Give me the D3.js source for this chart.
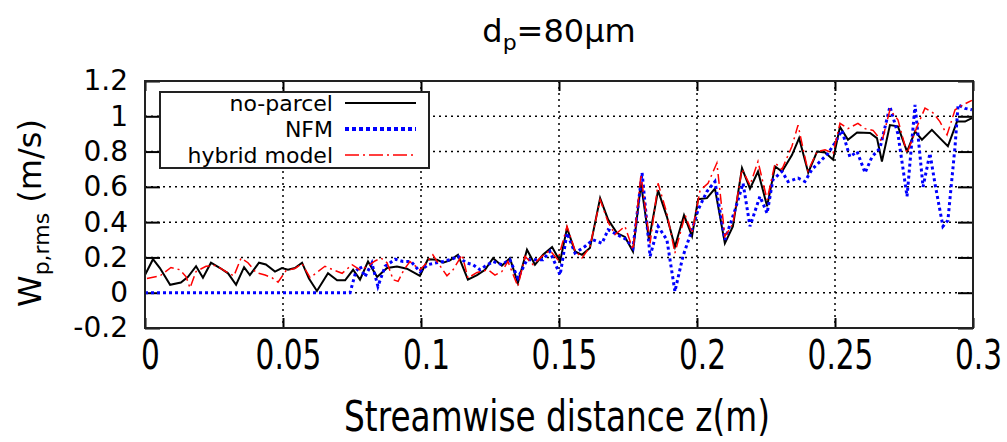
<!DOCTYPE html>
<html>
<head>
<meta charset="utf-8">
<script src="https://cdn.jsdelivr.net/npm/d3@7"></script>
<style>
body { margin: 0; background: #fff; }
text { font-family: "DejaVu Sans", sans-serif; fill: #000; }
</style>
</head>
<body>
<div id="chart"></div>
<script>
// no-parcel (black solid)
var noParcelZ = [0, 0.0029, 0.0054, 0.0091, 0.0130, 0.0156, 0.0185, 0.0210, 0.0239, 0.0272,
    0.0301, 0.0330, 0.0359, 0.0380, 0.0413, 0.0438, 0.0471, 0.0496, 0.0518, 0.0543,
    0.0569, 0.0594, 0.0623, 0.0663, 0.0696, 0.0725, 0.0754, 0.0779, 0.0808, 0.0841,
    0.0877, 0.0913, 0.0949, 0.0996, 0.1025, 0.1058, 0.1080, 0.1105, 0.1134, 0.1170,
    0.1203, 0.1232, 0.1261, 0.1293, 0.1322, 0.1351, 0.1384, 0.1413, 0.1442, 0.1475,
    0.1504, 0.1529, 0.1558, 0.1583, 0.1612, 0.1649, 0.1678, 0.1710, 0.1739, 0.1768,
    0.1797, 0.1826, 0.1859, 0.1891, 0.1920, 0.1953, 0.1982, 0.2004, 0.2036, 0.2065,
    0.2101, 0.2130, 0.2163, 0.2192, 0.2221, 0.2254, 0.2283, 0.2308, 0.2344, 0.2370,
    0.2403, 0.2435, 0.2464, 0.2493, 0.2518, 0.2547, 0.2580, 0.2627, 0.2652, 0.2670,
    0.2699, 0.2728, 0.2761, 0.2790, 0.2815, 0.2851, 0.2880, 0.2909, 0.2942, 0.2971, 0.2996];
var noParcelW = [0.10, 0.19, 0.14, 0.045, 0.058, 0.09, 0.15, 0.085, 0.17, 0.14,
    0.11, 0.045, 0.145, 0.10, 0.17, 0.16, 0.12, 0.14, 0.13, 0.14,
    0.17, 0.08, 0.01, 0.11, 0.07, 0.07, 0.13, 0.074, 0.177, 0.089,
    0.14, 0.149, 0.136, 0.096, 0.19, 0.187, 0.17, 0.183, 0.215, 0.074,
    0.10, 0.13, 0.196, 0.153, 0.196, 0.055, 0.244, 0.159, 0.215, 0.259,
    0.177, 0.366, 0.234, 0.215, 0.253, 0.536, 0.414, 0.338, 0.316, 0.234,
    0.62, 0.30, 0.58, 0.43, 0.26, 0.44, 0.32, 0.53, 0.536, 0.59,
    0.28, 0.376, 0.706, 0.59, 0.687, 0.49, 0.716, 0.687, 0.78, 0.876,
    0.68, 0.80, 0.795, 0.754, 0.94, 0.867, 0.908, 0.905, 0.876, 0.744,
    0.95, 0.943, 0.80, 0.914, 0.867, 0.923, 0.876, 0.83, 0.97, 0.97, 0.99];

// NFM (blue dotted)
var nfmZ = [0, 0.0250, 0.0500, 0.0743, 0.0764, 0.0779, 0.0797, 0.0822, 0.0844, 0.0870,
    0.0906, 0.0935, 0.0964, 0.0996, 0.1025, 0.1051, 0.1080, 0.1112, 0.1134, 0.1163,
    0.1188, 0.1214, 0.1232, 0.1261, 0.1293, 0.1322, 0.1351, 0.1384, 0.1413, 0.1442,
    0.1467, 0.1504, 0.1529, 0.1558, 0.1594, 0.1623, 0.1656, 0.1678, 0.1710, 0.1746,
    0.1768, 0.1801, 0.1830, 0.1859, 0.1891, 0.1920, 0.1949, 0.1982, 0.2004, 0.2036,
    0.2065, 0.2101, 0.2138, 0.2167, 0.2192, 0.2228, 0.2254, 0.2275, 0.2308, 0.2330,
    0.2366, 0.2391, 0.2417, 0.2446, 0.2475, 0.2500, 0.2525, 0.2554, 0.2580, 0.2609,
    0.2634, 0.2663, 0.2699, 0.2728, 0.2761, 0.2790, 0.2819, 0.2844, 0.2862, 0.2891,
    0.2909, 0.2935, 0.2946, 0.2971, 0.2996];
var nfmW = [0, 0, 0, 0, 0.12, 0.15, 0.09, 0.168, 0.036, 0.15,
    0.19, 0.177, 0.177, 0.12, 0.159, 0.168, 0.177, 0.19, 0.206, 0.17,
    0.159, 0.13, 0.15, 0.177, 0.159, 0.187, 0.083, 0.187, 0.187, 0.187,
    0.234, 0.10, 0.338, 0.225, 0.262, 0.30, 0.28, 0.357, 0.33, 0.30,
    0.253, 0.68, 0.206, 0.376, 0.30, 0.007, 0.206, 0.357, 0.47, 0.574,
    0.63, 0.30, 0.47, 0.62, 0.376, 0.546, 0.45, 0.64, 0.687, 0.63,
    0.65, 0.63, 0.70, 0.744, 0.79, 0.85, 0.92, 0.77, 0.80, 0.68,
    0.77, 0.82, 1.055, 0.90, 0.546, 1.065, 0.60, 0.79, 0.62, 0.376,
    0.41, 0.83, 1.065, 1.045, 1.037];

// hybrid model (red dash-dot)
var hybridZ = [0.0007, 0.0054, 0.0094, 0.0127, 0.0149, 0.0163, 0.0185, 0.0221, 0.0257, 0.0293,
    0.0322, 0.0348, 0.0373, 0.0402, 0.0435, 0.0460, 0.0482, 0.0511, 0.0543, 0.0569,
    0.0598, 0.0627, 0.0652, 0.0681, 0.0714, 0.0750, 0.0779, 0.0808, 0.0833, 0.0855,
    0.0877, 0.0899, 0.0917, 0.0938, 0.0960, 0.0996, 0.1014, 0.1043, 0.1062, 0.1094,
    0.1116, 0.1149, 0.1170, 0.1203, 0.1243, 0.1268, 0.1293, 0.1315, 0.1351, 0.1377,
    0.1406, 0.1438, 0.1467, 0.1496, 0.1529, 0.1558, 0.1583, 0.1612, 0.1649, 0.1678,
    0.1703, 0.1739, 0.1768, 0.1797, 0.1830, 0.1859, 0.1891, 0.1920, 0.1957, 0.1982,
    0.2011, 0.2040, 0.2072, 0.2101, 0.2130, 0.2163, 0.2192, 0.2221, 0.2254, 0.2283,
    0.2308, 0.2344, 0.2366, 0.2402, 0.2435, 0.2464, 0.2493, 0.2518, 0.2547, 0.2583,
    0.2609, 0.2638, 0.2670, 0.2699, 0.2728, 0.2761, 0.2797, 0.2826, 0.2855, 0.2880,
    0.2906, 0.2935, 0.2964, 0.2996];
var hybridW = [0.08, 0.095, 0.143, 0.13, 0.09, 0.027, 0.12, 0.15, 0.155, 0.12,
    0.095, 0.196, 0.17, 0.115, 0.10, 0.085, 0.06, 0.125, 0.137, 0.165,
    0.085, 0.12, 0.15, 0.13, 0.11, 0.159, 0.13, 0.15, 0.18, 0.196,
    0.17, 0.074, 0.064, 0.13, 0.177, 0.13, 0.159, 0.215, 0.168, 0.096,
    0.13, 0.215, 0.083, 0.115, 0.13, 0.10, 0.12, 0.177, 0.036, 0.206,
    0.159, 0.206, 0.24, 0.187, 0.376, 0.24, 0.196, 0.26, 0.527, 0.40,
    0.33, 0.376, 0.244, 0.668, 0.28, 0.62, 0.45, 0.225, 0.44, 0.338,
    0.58, 0.62, 0.735, 0.32, 0.39, 0.70, 0.61, 0.744, 0.527, 0.735,
    0.70, 0.83, 0.95, 0.69, 0.80, 0.81, 0.79, 0.96, 0.93, 0.96,
    0.93, 0.92, 0.857, 1.037, 0.98, 0.79, 0.94, 1.046, 1.02, 0.97,
    0.895, 1.037, 1.065, 1.09];

var xTicks = [0, 0.05, 0.1, 0.15, 0.2, 0.25, 0.3];
var xTickLabels = ["0", "0.05", "0.1", "0.15", "0.2", "0.25", "0.3"];
var yTicks = [-0.2, 0, 0.2, 0.4, 0.6, 0.8, 1, 1.2];
var yTickLabels = ["-0.2", "0", "0.2", "0.4", "0.6", "0.8", "1", "1.2"];
var seriesNames = ["no-parcel", "NFM", "hybrid model"];

var width = 1007, height = 442;
var plotL = 145, plotR = 973, plotT = 81, plotB = 328;

var svg = d3.select("#chart").append("svg")
    .attr("width", width)
    .attr("height", height);

var x = d3.scaleLinear().domain([0, 0.3]).range([plotL, plotR]);
var y = d3.scaleLinear().domain([-0.2, 1.2]).range([plotB, plotT]);

// grid
var grid = svg.append("g")
    .attr("stroke", "#000")
    .attr("stroke-width", 1.5)
    .attr("stroke-dasharray", "2,4");
grid.selectAll("line.gx")
    .data(xTicks.slice(1, -1))
    .enter().append("line")
    .attr("x1", function (d) { return x(d); })
    .attr("x2", function (d) { return x(d); })
    .attr("y1", plotT)
    .attr("y2", plotB);
grid.selectAll("line.gy")
    .data(yTicks.slice(1, -1))
    .enter().append("line")
    .attr("y1", function (d) { return y(d); })
    .attr("y2", function (d) { return y(d); })
    .attr("x1", plotL)
    .attr("x2", plotR);

// ticks on all sides, pointing in
function styleAxis(g) {
    g.select(".domain").remove();
    g.selectAll(".tick line").attr("stroke", "#000").attr("stroke-width", 2);
}
var xAxisG = svg.append("g")
    .attr("transform", "translate(0," + plotB + ")")
    .call(d3.axisBottom(x).tickValues(xTicks).tickSize(-10).tickFormat(""))
    .call(styleAxis);
// tall, narrow tick labels like the original
xAxisG.selectAll(".tick")
    .append("text")
    .attr("transform", "translate(5,41) scale(0.74,1)")
    .attr("text-anchor", "middle")
    .attr("font-size", 40)
    .text(function (d, i) { return xTickLabels[i]; });

svg.append("g")
    .attr("transform", "translate(0," + plotT + ")")
    .call(d3.axisTop(x).tickValues(xTicks).tickSize(-10).tickFormat(""))
    .call(styleAxis);
svg.append("g")
    .attr("transform", "translate(" + plotL + ",0)")
    .call(d3.axisLeft(y).tickValues(yTicks).tickSize(-15).tickPadding(17)
        .tickFormat(function (d, i) { return yTickLabels[i]; }))
    .call(styleAxis)
    .selectAll("text")
    .attr("font-size", 28)
    .attr("font-family", "DejaVu Sans, sans-serif")
    .attr("fill", "#000");
svg.append("g")
    .attr("transform", "translate(" + plotR + ",0)")
    .call(d3.axisRight(y).tickValues(yTicks).tickSize(-15).tickFormat(""))
    .call(styleAxis);

// series
function series(zs, ws) {
    return zs.map(function (z, i) { return [z, ws[i]]; });
}
var line = d3.line()
    .x(function (d) { return x(d[0]); })
    .y(function (d) { return y(d[1]); });

svg.append("path")
    .datum(series(noParcelZ, noParcelW))
    .attr("d", line)
    .attr("fill", "none")
    .attr("stroke", "#000")
    .attr("stroke-width", 2);
svg.append("path")
    .datum(series(nfmZ, nfmW))
    .attr("d", line)
    .attr("fill", "none")
    .attr("stroke", "#0000ff")
    .attr("stroke-width", 3)
    .attr("stroke-dasharray", "3,3");
svg.append("path")
    .datum(series(hybridZ, hybridW))
    .attr("d", line)
    .attr("fill", "none")
    .attr("stroke", "#ff0000")
    .attr("stroke-width", 1.5)
    .attr("stroke-dasharray", "10,4,2,4");

// border
svg.append("rect")
    .attr("x", plotL).attr("y", plotT)
    .attr("width", plotR - plotL).attr("height", plotB - plotT)
    .attr("fill", "none")
    .attr("stroke", "#222")
    .attr("stroke-width", 2);

// legend
var legend = svg.append("g");
legend.append("rect")
    .attr("x", 160).attr("y", 92)
    .attr("width", 269).attr("height", 76)
    .attr("fill", "#fff")
    .attr("stroke", "#222")
    .attr("stroke-width", 2);
var legendStyles = [
    { stroke: "#000", width: 2, dash: null },
    { stroke: "#0000ff", width: 4, dash: "4,3" },
    { stroke: "#ff0000", width: 1.5, dash: "14,4,2,4" }
];
seriesNames.forEach(function (name, i) {
    var yy = 103 + i * 26;
    legend.append("text")
        .attr("x", 333).attr("y", yy)
        .attr("dy", "0.35em")
        .attr("text-anchor", "end")
        .attr("font-size", 22)
        .text(name);
    legend.append("line")
        .attr("x1", 345).attr("x2", 416)
        .attr("y1", yy).attr("y2", yy)
        .attr("stroke", legendStyles[i].stroke)
        .attr("stroke-width", legendStyles[i].width)
        .attr("stroke-dasharray", legendStyles[i].dash);
});

// title
var title = svg.append("text")
    .attr("x", 559).attr("y", 42)
    .attr("text-anchor", "middle")
    .attr("font-size", 32);
title.append("tspan").text("d");
title.append("tspan").attr("font-size", 22).attr("dy", 8).text("p");
title.append("tspan").attr("dy", -8).text("=80µm");

// axis titles
svg.append("text")
    .attr("transform", "translate(557,431) scale(0.78,1)")
    .attr("text-anchor", "middle")
    .attr("font-size", 42)
    .text("Streamwise distance z(m)");

var ylab = svg.append("text")
    .attr("transform", "translate(41,307) rotate(-90)")
    .attr("text-anchor", "start")
    .attr("font-size", 32);
ylab.append("tspan").text("W");
ylab.append("tspan").attr("font-size", 22).attr("dy", 8).text("p,rms");
ylab.append("tspan").attr("dy", -8).text(" (m/s)");
</script>
</body>
</html>
